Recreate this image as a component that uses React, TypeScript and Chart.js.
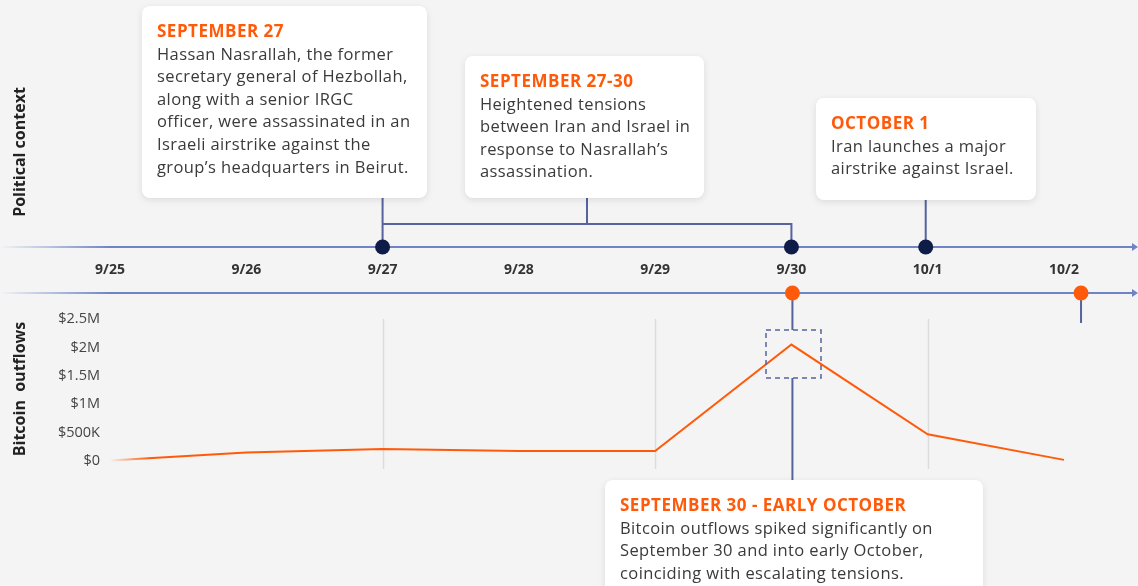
import React, { useEffect, useRef } from "react";
import { Chart, registerables } from "chart.js";

Chart.register(...registerables);

const dateLabels = ["9/25", "9/26", "9/27", "9/28", "9/29", "9/30", "10/1", "10/2"];
const outflows = [10000, 150000, 210000, 175000, 175000, 2050000, 470000, 20000];
const yTickValues = [0, 500000, 1000000, 1500000, 2000000, 2500000];
const gridIndices = [2, 4, 6];
const politicalDots = [2, 5, 6];
const bitcoinDots = [5, 7.125];

const ORANGE = "#ff5a0a";
const NAVY = "#0e1c48";
const CONNECT = "#55639e";
const AXISLINE = "111,132,198";
const FONT = "'Open Sans', Lato, sans-serif";

function fmt(v: number): string {
  if (v === 0) return "$0";
  if (v >= 1000000) return "$" + v / 1000000 + "M";
  return "$" + v / 1000 + "K";
}

const timelinePlugin = {
  id: "timeline",
  beforeDatasetsDraw(chart: any) {
    const { ctx } = chart;
    const x = chart.scales.x;
    ctx.save();
    ctx.strokeStyle = "#dcdcdc";
    ctx.lineWidth = 1.5;
    gridIndices.forEach((i) => {
      const px = Math.round(x.getPixelForValue(i)) + 0.5;
      ctx.beginPath();
      ctx.moveTo(px, 319);
      ctx.lineTo(px, 469);
      ctx.stroke();
    });
    ctx.restore();
  },
  afterDatasetsDraw(chart: any) {
    const { ctx, width } = chart;
    const x = chart.scales.x;
    const px = (i: number) => x.getPixelForValue(i);
    ctx.save();

    // Timeline axes
    [247, 293].forEach((y) => {
      const g = ctx.createLinearGradient(0, 0, 110, 0);
      g.addColorStop(0, `rgba(${AXISLINE},0)`);
      g.addColorStop(1, `rgba(${AXISLINE},1)`);
      ctx.strokeStyle = g;
      ctx.lineWidth = 2;
      ctx.beginPath();
      ctx.moveTo(0, y);
      ctx.lineTo(width - 4, y);
      ctx.stroke();
      ctx.fillStyle = `rgb(${AXISLINE})`;
      ctx.beginPath();
      ctx.moveTo(width, y);
      ctx.lineTo(width - 6, y - 4);
      ctx.lineTo(width - 6, y + 4);
      ctx.closePath();
      ctx.fill();
    });

    // Connectors political
    ctx.strokeStyle = CONNECT;
    ctx.lineWidth = 2;
    const a = px(2), b = px(5), c = px(6) - 2;
    ctx.beginPath();
    ctx.moveTo(a, 198); ctx.lineTo(a, 247);
    ctx.moveTo(a, 224); ctx.lineTo(b, 224); ctx.lineTo(b, 247);
    ctx.moveTo(587, 198); ctx.lineTo(587, 224);
    ctx.moveTo(c, 200); ctx.lineTo(c, 247);
    ctx.stroke();

    // Connectors bitcoin
    const d = px(5) + 1, e = px(7.125);
    ctx.beginPath();
    ctx.moveTo(d, 293); ctx.lineTo(d, 330);
    ctx.moveTo(d, 378); ctx.lineTo(d, 482);
    ctx.moveTo(e, 293); ctx.lineTo(e, 323);
    ctx.stroke();

    // Dashed box
    ctx.setLineDash([5, 4]);
    ctx.lineWidth = 1.5;
    ctx.strokeRect(766, 330, 55, 48);
    ctx.setLineDash([]);

    // Dots
    ctx.fillStyle = NAVY;
    politicalDots.forEach((i, k) => {
      ctx.beginPath();
      ctx.arc(k === 2 ? px(i) - 2 : px(i), 247, 7.5, 0, Math.PI * 2);
      ctx.fill();
    });
    ctx.fillStyle = ORANGE;
    bitcoinDots.forEach((i, k) => {
      ctx.beginPath();
      ctx.arc(k === 0 ? px(i) + 1 : px(i), 293, 7.5, 0, Math.PI * 2);
      ctx.fill();
    });

    // Date labels
    ctx.fillStyle = "#333";
    ctx.font = `bold 14px ${FONT}`;
    ctx.textAlign = "center";
    ctx.textBaseline = "middle";
    dateLabels.forEach((l, i) => ctx.fillText(l, px(i), 270));
    ctx.restore();
  },
};

const boxStyle: React.CSSProperties = {
  position: "absolute",
  background: "#fff",
  borderRadius: 8,
  boxShadow: "0 2px 7px rgba(0,0,0,0.10)",
  padding: "14px 10px 0 15px",
  boxSizing: "border-box",
  fontFamily: FONT,
  fontSize: 16.5,
  letterSpacing: "0.4px",
  lineHeight: "22.6px",
  color: "#3a3a3a",
  whiteSpace: "nowrap",
};
const titleStyle: React.CSSProperties = {
  color: ORANGE,
  fontWeight: 700,
  fontSize: 17,
  letterSpacing: "0.5px",
};

function Box(props: { left: number; top: number; width: number; height: number; title: string; lines: string[] }) {
  return (
    <div style={{ ...boxStyle, left: props.left, top: props.top, width: props.width, height: props.height }}>
      <div style={titleStyle}>{props.title}</div>
      {props.lines.map((l, i) => (
        <div key={i}>{l}</div>
      ))}
    </div>
  );
}

const axisTitle: React.CSSProperties = {
  position: "absolute",
  fontFamily: FONT,
  fontWeight: 700,
  fontSize: 16,
  color: "#222",
  whiteSpace: "pre",
  transform: "translate(-50%, -50%) rotate(-90deg)",
};

export default function App() {
  const ref = useRef<HTMLCanvasElement>(null);
  useEffect(() => {
    document.body.style.margin = "0";
    document.body.style.background = "#f4f4f4";
    const chart = new Chart(ref.current as HTMLCanvasElement, {
      type: "line",
      data: {
        labels: dateLabels,
        datasets: [
          {
            data: outflows,
            borderWidth: 2,
            pointRadius: 0,
            tension: 0,
            clip: false as any,
            borderColor: (ctx: any) => {
              const ca = ctx.chart.chartArea;
              if (!ca) return ORANGE;
              const g = ctx.chart.ctx.createLinearGradient(ca.left, 0, ca.left + 40, 0);
              g.addColorStop(0, "rgba(255,90,10,0)");
              g.addColorStop(1, "rgba(255,90,10,1)");
              return g;
            },
          },
        ],
      },
      options: {
        animation: false,
        responsive: false,
        layout: { padding: { left: 0, right: 74, top: 319, bottom: 125 } },
        plugins: { legend: { display: false }, tooltip: { enabled: false } },
        scales: {
          x: { type: "category", display: false, offset: false },
          y: {
            min: 0,
            max: 2500000,
            afterFit: (s: any) => {
              s.width = 110;
            },
            afterBuildTicks: (s: any) => {
              s.ticks = yTickValues.map((v) => ({ value: v }));
            },
            grid: { display: false, drawTicks: false },
            border: { display: false },
            ticks: {
              padding: 10,
              color: "#444",
              font: { family: FONT, size: 14.5 },
              callback: (v: any) => fmt(Number(v)),
            },
          },
        },
      },
      plugins: [timelinePlugin],
    });
    return () => chart.destroy();
  }, []);

  return (
    <div style={{ position: "relative", width: 1138, height: 586, overflow: "hidden", background: "#f4f4f4" }}>
      <canvas ref={ref} width={1138} height={586} style={{ position: "absolute", left: 0, top: 0 }} />
      <div style={{ ...axisTitle, left: 19, top: 152 }}>Political context</div>
      <div style={{ ...axisTitle, left: 19, top: 389 }}>{"Bitcoin  outflows"}</div>
      <Box
        left={142}
        top={6}
        width={285}
        height={192}
        title="SEPTEMBER 27"
        lines={[
          "Hassan Nasrallah, the former",
          "secretary general of Hezbollah,",
          "along with a senior IRGC",
          "officer, were assassinated in an",
          "Israeli airstrike against the",
          "group’s headquarters in Beirut.",
        ]}
      />
      <Box
        left={465}
        top={56}
        width={239}
        height={142}
        title="SEPTEMBER 27-30"
        lines={["Heightened tensions", "between Iran and Israel in", "response to Nasrallah’s", "assassination."]}
      />
      <Box
        left={816}
        top={98}
        width={220}
        height={102}
        title="OCTOBER 1"
        lines={["Iran launches a major", "airstrike against Israel."]}
      />
      <Box
        left={605}
        top={480}
        width={378}
        height={130}
        title="SEPTEMBER 30 - EARLY OCTOBER"
        lines={[
          "Bitcoin outflows spiked significantly on",
          "September 30 and into early October,",
          "coinciding with escalating tensions.",
        ]}
      />
    </div>
  );
}
